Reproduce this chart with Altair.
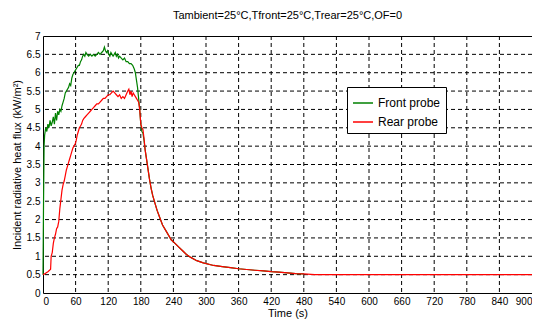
import altair as alt
import pandas as pd

series_names = ["Front probe", "Rear probe"]
series_colors = ["#008000", "#ff0000"]

front_t = [0, 1, 2, 3, 5, 7, 9, 11, 13, 15, 17, 19, 21, 23, 25, 27, 29, 31, 33, 35,
           37, 39, 41, 43, 45, 47, 49, 51, 53, 55, 57, 59, 61, 63, 65, 67, 69, 71, 73, 75,
           77, 79, 81, 84, 87, 90, 93, 96, 99, 102, 105, 108, 111, 113, 115, 117, 119, 121,
           123, 125, 127, 129, 131, 133, 135, 137, 139, 141, 144, 147, 150, 153, 156, 159,
           162, 165, 168, 170, 172, 174, 176, 178, 180, 182, 184, 186, 188, 190, 193, 196,
           199, 202, 206, 210, 215, 220, 228, 236, 243, 250, 257, 264, 272, 283, 295, 314,
           330, 345, 360, 375, 390, 406, 420, 434, 450, 465, 480]
front_v = [0.5, 2.5, 4.0, 4.3, 4.5, 4.4, 4.6, 4.5, 4.7, 4.55, 4.65, 4.8, 4.6, 4.9, 4.7,
           4.95, 4.85, 5.0, 4.95, 5.1, 5.2, 5.3, 5.45, 5.5, 5.55, 5.6, 5.7, 5.65, 5.85, 5.95,
           6.0, 6.05, 6.1, 6.15, 6.2, 6.2, 6.3, 6.35, 6.45, 6.5, 6.45, 6.55, 6.5, 6.45, 6.5,
           6.45, 6.5, 6.45, 6.5, 6.55, 6.5, 6.55, 6.6, 6.7, 6.6, 6.55, 6.6, 6.5, 6.45, 6.55,
           6.5, 6.45, 6.5, 6.55, 6.45, 6.5, 6.4, 6.45, 6.4, 6.35, 6.4, 6.3, 6.3, 6.25, 6.25,
           6.2, 6.1, 6.0, 5.8, 5.6, 5.3, 5.0, 4.6, 4.4, 4.35, 4.15, 3.9, 3.7, 3.4, 3.1, 2.85,
           2.65, 2.45, 2.25, 2.05, 1.85, 1.65, 1.45, 1.35, 1.25, 1.15, 1.05, 0.97, 0.88, 0.82,
           0.75, 0.72, 0.69, 0.66, 0.64, 0.62, 0.6, 0.58, 0.57, 0.55, 0.53, 0.52]

rear_t = [0, 3, 6, 9, 12, 14, 15, 17, 19, 21, 23, 25, 27, 29, 31, 33, 35, 37, 39, 41, 43,
          45, 47, 49, 51, 53, 55, 57, 59, 61, 63, 65, 67, 69, 71, 73, 75, 78, 81, 84, 87, 90,
          93, 96, 99, 102, 105, 108, 111, 114, 117, 120, 123, 126, 129, 132, 135, 138, 141,
          144, 147, 150, 153, 156, 158, 160, 162, 164, 166, 168, 170, 172, 174, 176, 178,
          180, 182, 184, 186, 188, 190, 193, 196, 199, 202, 206, 210, 215, 220, 228, 236,
          243, 250, 257, 264, 272, 283, 295, 314, 330, 345, 360, 375, 390, 406, 420, 434,
          450, 465, 480, 500, 900]
rear_v = [0.5, 0.52, 0.55, 0.58, 0.62, 0.65, 1.0, 1.1, 1.35, 1.5, 1.6, 1.75, 1.8, 1.95,
          2.3, 2.55, 2.8, 2.95, 3.05, 3.2, 3.35, 3.45, 3.55, 3.65, 3.75, 3.85, 3.95, 4.0,
          4.05, 4.15, 4.3, 4.4, 4.5, 4.55, 4.6, 4.7, 4.75, 4.8, 4.85, 4.9, 4.95, 5.0, 5.05,
          5.1, 5.15, 5.15, 5.2, 5.25, 5.3, 5.3, 5.35, 5.4, 5.4, 5.45, 5.5, 5.45, 5.4, 5.35,
          5.4, 5.3, 5.35, 5.3, 5.4, 5.5, 5.55, 5.4, 5.5, 5.35, 5.45, 5.4, 5.35, 5.3, 5.25,
          5.2, 5.0, 4.6, 4.5, 4.45, 4.2, 3.9, 3.7, 3.4, 3.1, 2.85, 2.65, 2.45, 2.25, 2.05,
          1.85, 1.65, 1.45, 1.35, 1.25, 1.15, 1.05, 0.97, 0.88, 0.82, 0.75, 0.72, 0.69,
          0.66, 0.64, 0.62, 0.6, 0.58, 0.57, 0.55, 0.53, 0.52, 0.5, 0.5]

x_ticks = list(range(0, 901, 60))
y_ticks = [0, 0.5, 1, 1.5, 2, 2.5, 3, 3.5, 4, 4.5, 5, 5.5, 6, 6.5, 7]

rows = []
for i, (t, v) in enumerate(zip(front_t, front_v)):
    rows.append({"t": t, "v": v, "series": series_names[0], "o": i})
for i, (t, v) in enumerate(zip(rear_t, rear_v)):
    rows.append({"t": t, "v": v, "series": series_names[1], "o": i})
df = pd.DataFrame(rows)

FONT = "Liberation Sans Narrow, Arial Narrow, Liberation Sans, sans-serif"

xscale = alt.Scale(domain=[0, 900], nice=False, zero=False)
yscale = alt.Scale(domain=[0, 7], nice=False)

axis_kw = dict(grid=False, ticks=False, domain=False, labelFont=FONT,
               labelFontSize=10, labelColor="black", titleFont=FONT, titleFontSize=11,
               titleFontWeight="normal", titleColor="black", labelPadding=3)
xaxis = alt.Axis(values=x_ticks, title="Time (s)", labelExpr="'' + datum.value",
                 titlePadding=1, **axis_kw)
yaxis = alt.Axis(values=y_ticks, title="Incident radiative heat flux (kW/m²)",
                 labelExpr="'' + datum.value", titlePadding=4, **axis_kw)

vgrid = alt.Chart(pd.DataFrame({"x": x_ticks[1:-1]})).mark_rule(
    color="black", strokeDash=[4, 3], strokeWidth=1
).encode(x=alt.X("x:Q", scale=xscale, axis=xaxis))

hgrid = alt.Chart(pd.DataFrame({"y": y_ticks[1:-1]})).mark_rule(
    color="black", strokeDash=[4, 3], strokeWidth=1
).encode(y=alt.Y("y:Q", scale=yscale, axis=yaxis))

lines = alt.Chart(df).mark_line(strokeWidth=1.2).encode(
    x=alt.X("t:Q", scale=xscale, axis=xaxis),
    y=alt.Y("v:Q", scale=yscale, axis=yaxis),
    color=alt.Color("series:N",
                    scale=alt.Scale(domain=series_names, range=series_colors),
                    legend=alt.Legend(title=None, orient="none", legendX=304, legendY=51,
                                      fillColor="white", strokeColor="black", padding=5,
                                      symbolType="stroke", symbolSize=400,
                                      symbolStrokeWidth=1.5, labelFontSize=12,
                                      labelFont=FONT, labelColor="black", rowPadding=2)),
    order="o:Q",
)

chart = alt.layer(vgrid, hgrid, lines).properties(
    width=489,
    height=257,
    title=alt.TitleParams("Tambient=25°C,Tfront=25°C,Trear=25°C,OF=0", fontSize=11,
                          font=FONT, fontWeight="normal", color="black", offset=10),
    autosize=alt.AutoSizeParams(type="none"),
    padding={"left": 35, "top": 28, "right": 0, "bottom": 32},
).configure_view(
    stroke="black", strokeWidth=1
)

chart.save("out.html", embed_options={"renderer": "svg", "actions": False})
